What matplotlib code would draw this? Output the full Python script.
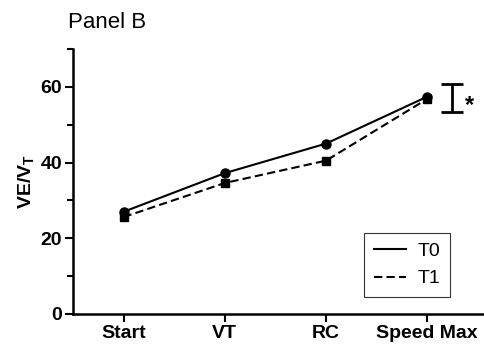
import matplotlib
matplotlib.use("Agg")
import matplotlib.pyplot as plt
from matplotlib.ticker import MultipleLocator

categories = ["Start", "VT", "RC", "Speed Max"]
t0_values = [27.0, 37.2, 45.0, 57.4]
t1_values = [25.6, 34.6, 40.5, 56.8]
err_low = 53.4
err_high = 60.8

plt.rcParams['font.family'] = ['Liberation Sans', 'DejaVu Sans']
plt.rcParams['mathtext.fontset'] = 'custom'
plt.rcParams['mathtext.bf'] = 'Liberation Sans:bold'
plt.rcParams['mathtext.rm'] = 'Liberation Sans'

fig = plt.figure(figsize=(4.85, 3.46), dpi=100)
ax = fig.add_axes([0.1505, 0.0925, 0.845, 0.766])

x = list(range(len(categories)))
ax.plot(x, t0_values, color='black', lw=1.5, marker='o', ms=6.5, label='T0')
ax.plot(x, t1_values, color='black', lw=1.5, ls=(0, (4, 2)), marker='s', ms=6, label='T1')

# error bar annotation
ax.errorbar([3.25], [(err_low + err_high) / 2], yerr=[[(err_high - err_low) / 2]],
            fmt='none', ecolor='black', elinewidth=2.0, capsize=8, capthick=2.0)
ax.text(3.42, 55.0, '*', fontsize=17, fontweight='bold', ha='center', va='center')

ax.set_xlim(-0.5, 3.55)
ax.set_ylim(0, 70)
ax.set_xticks(x)
ax.set_xticklabels(categories, fontsize=14, fontweight='bold')
ax.set_yticks([0, 20, 40, 60])
ax.yaxis.set_minor_locator(MultipleLocator(10))
for lab in ax.get_yticklabels():
    lab.set_fontweight('bold')
    lab.set_fontsize(14)
ax.tick_params(axis='both', which='major', direction='out', length=6, width=1.5, pad=2)
ax.tick_params(axis='y', which='minor', direction='out', length=4, width=1.5)
for s in ['top', 'right']:
    ax.spines[s].set_visible(False)
for s in ['left', 'bottom']:
    ax.spines[s].set_linewidth(1.8)

ax.set_ylabel(r'$\mathbf{VE/V_T}$', fontsize=14, labelpad=3)

leg = ax.legend(loc='lower right', bbox_to_anchor=(0.92, 0.064), fontsize=14,
                frameon=True, fancybox=False, edgecolor='black', handlelength=1.65,
                handletextpad=0.6, markerfirst=True, borderpad=0.5, labelspacing=0.5,
                borderaxespad=0)
for h in leg.get_lines():
    h.set_marker('')
leg.get_frame().set_linewidth(0.8)

fig.text(0.14, 0.936, 'Panel B', fontsize=16, ha='left', va='center')

fig.savefig('out.png', dpi=100)
